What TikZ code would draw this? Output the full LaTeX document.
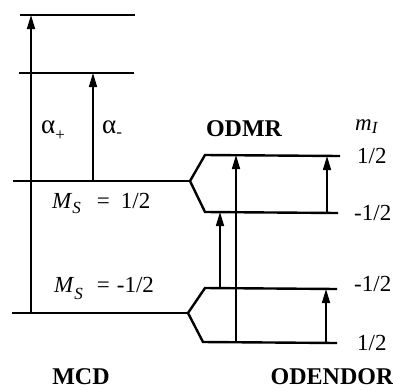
\documentclass[tikz,border=0pt]{standalone}
\usepackage{fontspec}
\setmainfont{Liberation Serif}
\usetikzlibrary{arrows.meta}
\newcommand{\subsc}[2][-5pt]{\raisebox{#1}{\fontsize{17}{17}\selectfont #2}}
\begin{document}
\begin{tikzpicture}[x=1pt,y=-1pt,
  level/.style={line width=2.4pt},
  trans/.style={line width=1.6pt,-{Triangle[length=14pt,width=8pt]}},
  lbl/.style={inner sep=0pt,font=\fontsize{23}{25}\selectfont},
  albl/.style={inner sep=0pt,font=\fontsize{27}{29}\selectfont},
  blbl/.style={inner sep=0pt,font=\fontsize{24}{26}\selectfont\bfseries}]
\useasboundingbox (0,0) rectangle (393,389);
% level endpoints
\coordinate (t1) at (20,15);   \coordinate (t2) at (135,15);
\coordinate (s1) at (19,73);   \coordinate (s2) at (134,73);
\coordinate (u1) at (13,181);  \coordinate (u2) at (190,181);
\coordinate (ua1) at (205,155); \coordinate (ua2) at (340,156);
\coordinate (ub1) at (205,212); \coordinate (ub2) at (338,213);
\coordinate (l1) at (12,313);  \coordinate (l2) at (188,313);
\coordinate (la1) at (205,288); \coordinate (la2) at (337,289);
\coordinate (lb1) at (203,342); \coordinate (lb2) at (337,343);
% levels
\draw[level] (t1) -- (t2);
\draw[level] (s1) -- (s2);
\draw[level] (u1) -- (u2);
\draw[level,line join=miter] (ua2) -- (ua1) -- (u2) -- (ub1) -- (ub2);
\draw[level] (l1) -- (l2);
\draw[level,line join=miter] (la2) -- (la1) -- (l2) -- (lb1) -- (lb2);
% transition foot/head coordinates
\coordinate (apf) at (31,313);  \coordinate (aph) at (31,15);
\coordinate (amf) at (93,181);  \coordinate (amh) at (93,73);
\coordinate (odf) at (236,342); \coordinate (odh) at (236,155);
\coordinate (mdf) at (220,288); \coordinate (mdh) at (220,212);
\coordinate (euf) at (327,212); \coordinate (euh) at (327,156);
\coordinate (elf) at (326,342); \coordinate (elh) at (326,289);
\draw[trans] (apf) -- (aph);
\draw[trans] (amf) -- (amh);
\draw[trans] (odf) -- (odh);
\draw[trans] (mdf) -- (mdh);
\draw[trans] (euf) -- (euh);
\draw[trans] (elf) -- (elh);
% labels
\node[albl,anchor=base west] (ap) at (41,133) {α\subsc[-7pt]{+}};
\node[albl,anchor=base west] (am) at (102,133) {α\subsc[-4pt]{-}};
\node[lbl,anchor=base west] (msu) at (52,208) {\textit{M}\subsc{\textit{S}}\hspace{16pt}=\hspace{11pt}1/2};
\node[lbl,anchor=base west] (msl) at (54,292) {\textit{M}\subsc[-7pt]{\textit{S}}\hspace{14pt}=\hspace{7pt}-1/2};
\node[blbl] (odmr) at (244,129) {ODMR};
\node[lbl,anchor=base west] (mi) at (355,130) {\textit{m}\subsc[-3pt]{\textit{I}}};
\node[lbl,anchor=base west] (r1) at (357,163) {1/2};
\node[lbl,anchor=base west] (r2) at (354,220) {-1/2};
\node[lbl,anchor=base west] (r3) at (354,291) {-1/2};
\node[lbl,anchor=base west] (r4) at (357,350) {1/2};
\node[blbl] (mcd) at (81,377) {MCD};
\node[blbl] (odendor) at (332,377) {ODENDOR};
\end{tikzpicture}
\end{document}
